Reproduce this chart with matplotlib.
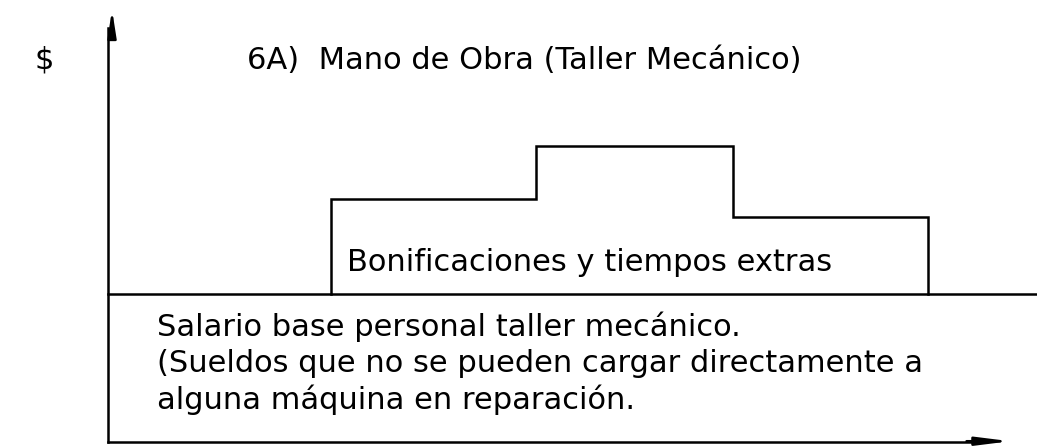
import matplotlib
matplotlib.use("Agg")
import matplotlib.pyplot as plt

# periods where the overtime/bonus level changes (x in periods, y in $ units)
step_edges = [1.12, 2.15, 3.14, 4.12]
bonus = [6.4, 10.0, 5.2]
base_salary = 10.0

title = "6A)  Mano de Obra (Taller Mecánico)"
bonus_label = "Bonificaciones y tiempos extras"
base_label = ("Salario base personal taller mecánico.\n"
              "(Sueldos que no se pueden cargar directamente a\n"
              "alguna máquina en reparación.")

fig = plt.figure(figsize=(10.37, 4.47), dpi=100)
ax = fig.add_axes([0, 0, 1, 1])
ax.set_xlim(-0.543, 4.668)
ax.set_ylim(-0.34, 29.86)
ax.axis('off')

lw = 1.8
# axes with arrows
ax.plot([0, 0], [0, 28.0], color='black', lw=lw)
ax.annotate('', xy=(0.02, 29.4), xytext=(0.02, 27.0),
            arrowprops=dict(arrowstyle='-|>,head_length=1.6,head_width=0.25',
                            color='black', lw=lw))
ax.plot([0, 4.35], [0, 0], color='black', lw=lw)
ax.annotate('', xy=(4.548, 0.05), xytext=(4.30, 0.05),
            arrowprops=dict(arrowstyle='-|>,head_length=2.0,head_width=0.25',
                            color='black', lw=lw))

# base salary line
ax.plot([0, 4.668], [base_salary, base_salary], color='black', lw=lw)

# bonus steps on top of base
xs = [step_edges[0]]
ys = [base_salary]
for i, b in enumerate(bonus):
    xs += [step_edges[i], step_edges[i + 1]]
    ys += [base_salary + b, base_salary + b]
xs.append(step_edges[-1])
ys.append(base_salary)
ax.plot(xs, ys, color='black', lw=lw, solid_joinstyle='miter')

fs = 22
ax.text(-0.37, 25.8, "$", fontsize=fs, ha='left', va='center')
ax.text(0.70, 25.8, title, fontsize=fs, ha='left', va='center')
ax.text(1.20, 12.1, bonus_label, fontsize=fs, ha='left', va='center')
ax.text(0.246, 5.3, base_label, fontsize=fs, ha='left', va='center',
        linespacing=1.28)

fig.savefig("out.png", dpi=100)
